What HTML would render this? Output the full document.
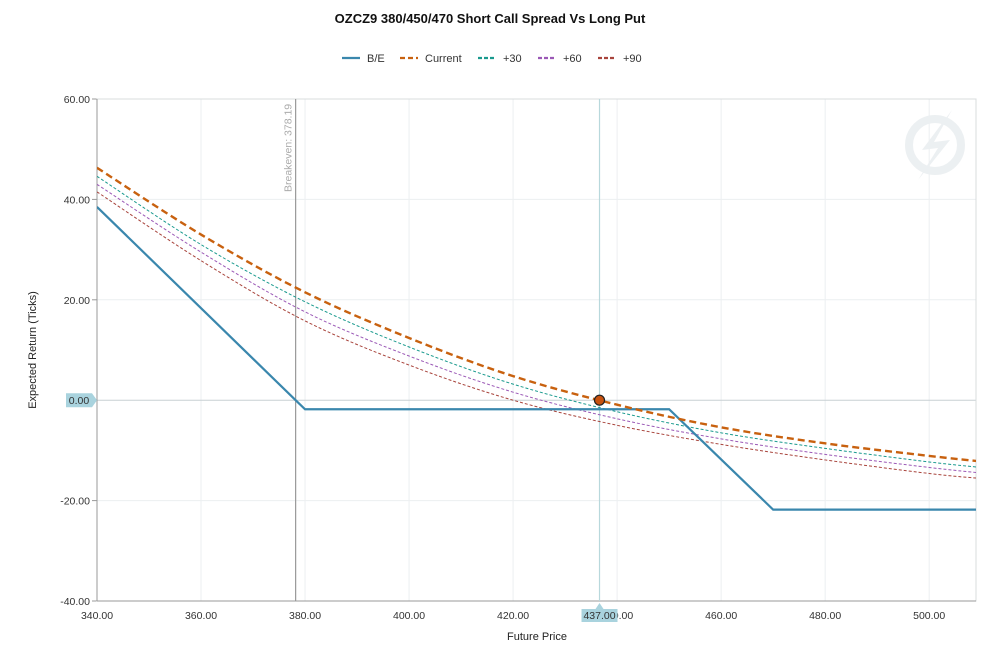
<!DOCTYPE html>
<html><head><meta charset="utf-8">
<style>
body{margin:0;background:#fff;font-family:"Liberation Sans",sans-serif;}
svg text{font-family:"Liberation Sans",sans-serif;}
</style></head>
<body>
<svg id="chart" width="991" height="659">
<defs><clipPath id="plotclip"><rect x="97" y="99" width="879" height="502"/></clipPath></defs>
<text x="490" y="23" text-anchor="middle" font-size="13" font-weight="bold" fill="#111">OZCZ9 380/450/470 Short Call Spread Vs Long Put</text>
<g id="legend"></g>
<g id="grid"></g>
<g id="series" clip-path="url(#plotclip)"></g>
<g id="overlay"></g>
</svg>
<script>
const prices=[340,360,380,400,420,440,460,480,500,510];
const currentVals=[46.3,33,21.5,12.4,4.8,-0.9,-5.4,-8.6,-11.1,-12.2];
const plus30Vals=[44.6,31,19.6,10.6,3.2,-2.3,-6.5,-9.6,-12.3,-13.4];
const plus60Vals=[43,29.5,17.6,8.8,1.6,-3.7,-7.7,-10.8,-13.4,-14.5];
const plus90Vals=[41.5,27.8,15.8,7,0,-5,-8.8,-11.9,-14.6,-15.6];
const bePrices=[340,378.19,380,450,470,510];
const beVals=[38.5,0,-1.8,-1.8,-21.8,-21.8];
const xTicks=[340,360,380,400,420,440,460,480,500];
const yTicks=[60,40,20,0,-20,-40];
const breakeven=378.19, cursorPrice=437, cursorVal=0;

const X0=97,X1=976,Y0=99,Y1=601;
const xMin=340,xMax=509,yMin=-40,yMax=60;
const sx=v=>X0+(v-xMin)/(xMax-xMin)*(X1-X0);
const sy=v=>Y1-(v-yMin)/(yMax-yMin)*(Y1-Y0);
const NS='http://www.w3.org/2000/svg';
function mk(tag,attrs,parent){const e=document.createElementNS(NS,tag);for(const k in attrs)e.setAttribute(k,attrs[k]);parent.appendChild(e);return e;}
const grid=document.getElementById('grid'),ser=document.getElementById('series'),ov=document.getElementById('overlay'),leg=document.getElementById('legend');

let wm=mk('g',{opacity:0.25},grid);


mk('circle',{cx:935,cy:145,r:26,fill:'none',stroke:'#b8c4cc','stroke-width':8},wm);
mk('path',{d:'M952 110 L922 150 L938 148 L918 180 L950 140 L934 142 Z',fill:'#b8c4cc'},wm);

xTicks.forEach(t=>{
 let l=mk('line',{x1:sx(t),x2:sx(t),y1:Y0,y2:Y1,stroke:'#eceff1'},grid);
 
 
 let tx=mk('text',{x:sx(t),y:619,'text-anchor':'middle','font-size':10.5,fill:'#333'},grid);
 tx.textContent=t.toFixed(2);
 
 
});
yTicks.forEach(t=>{
 let l=mk('line',{x1:X0,x2:X1,y1:sy(t),y2:sy(t),stroke:t===0?'#c8d0d4':'#eceff1'},grid);
 
 
 mk('line',{x1:X0-5,x2:X0,y1:sy(t),y2:sy(t),stroke:'#999'},grid);
 if(t!==0){let tx=mk('text',{x:X0-7,y:sy(t)+4,'text-anchor':'end','font-size':10.5,fill:'#333'},grid);
 tx.textContent=t.toFixed(2);
 
 }
});
mk('rect',{x:X0,y:Y0,width:X1-X0,height:Y1-Y0,fill:'none',stroke:'#d8dcde'},grid);
mk('line',{x1:X0,x2:X0,y1:Y0,y2:Y1,stroke:'#999'},grid);
mk('line',{x1:X0,x2:X1,y1:Y1,y2:Y1,stroke:'#999'},grid);
let xt=mk('text',{x:537,y:640,'text-anchor':'middle','font-size':11,fill:'#222'},grid);xt.textContent='Future Price';


let yt=mk('text',{x:36,y:350,'text-anchor':'middle','font-size':11,fill:'#222',transform:'rotate(-90 36 350)'},grid);yt.textContent='Expected Return (Ticks)';



let bl=mk('line',{x1:sx(breakeven),x2:sx(breakeven),y1:Y0,y2:Y1,stroke:'#999','stroke-width':1.2},grid);


let bt=mk('text',{x:0,y:0,'font-size':10.5,fill:'#aaa',transform:`translate(${sx(breakeven)-4},192) rotate(-90)`},grid);
bt.textContent='Breakeven: 378.19';


let cl=mk('line',{x1:sx(cursorPrice)-2,x2:sx(cursorPrice)-2,y1:Y0,y2:Y1,stroke:'#b8d8dc','stroke-width':1.2},grid);



function smooth(xs,ys){
 const p=xs.map((x,i)=>[sx(x),sy(ys[i])]);
 let d=`M${p[0][0]},${p[0][1]}`;
 for(let i=0;i<p.length-1;i++){
  const p0=p[i-1]||p[i],p1=p[i],p2=p[i+1],p3=p[i+2]||p2;
  const c1=[p1[0]+(p2[0]-p0[0])/6,p1[1]+(p2[1]-p0[1])/6];
  const c2=[p2[0]-(p3[0]-p1[0])/6,p2[1]-(p3[1]-p1[1])/6];
  d+=` C${c1[0]},${c1[1]} ${c2[0]},${c2[1]} ${p2[0]},${p2[1]}`;
 }
 return d;
}
const defs=[
 {vals:plus90Vals,color:'#a8443c',w:1,dash:'3,2',name:'plus90-line'},
 {vals:plus60Vals,color:'#9b59b6',w:1,dash:'3,2',name:'plus60-line'},
 {vals:plus30Vals,color:'#1a9a8e',w:1,dash:'3,2',name:'plus30-line'},
];
defs.forEach(s=>{
 let p=mk('path',{d:smooth(prices,s.vals),fill:'none',stroke:s.color,'stroke-width':s.w,'stroke-dasharray':s.dash},ser);
 
 
});
let be=mk('polyline',{points:bePrices.map((x,i)=>sx(x)+','+sy(beVals[i])).join(' '),fill:'none',stroke:'#3a87ad','stroke-width':2.2},ser);


let cur=mk('path',{d:smooth(prices,currentVals),fill:'none',stroke:'#c8610f','stroke-width':2.4,'stroke-dasharray':'7,4'},ser);



let dot=mk('circle',{cx:sx(cursorPrice)-2,cy:sy(cursorVal),r:5,fill:'#c8520f',stroke:'#222','stroke-width':1.2},ov);


let yb=mk('g',{},ov);


mk('path',{d:`M66 ${sy(0)-7} H92 L97 ${sy(0)} L92 ${sy(0)+7} H66 Z`,fill:'#a9d3de'},yb);
let ybt=mk('text',{x:79,y:sy(0)+4,'text-anchor':'middle','font-size':10.5,fill:'#333'},yb);ybt.textContent='0.00';
let xb=mk('g',{},ov);


const cx=sx(cursorPrice)-2;
mk('path',{d:`M${cx-18} 609 H${cx-4} L${cx} 603 L${cx+4} 609 H${cx+18} V622 H${cx-18} Z`,fill:'#a9d3de'},xb);
let xbt=mk('text',{x:cx,y:619,'text-anchor':'middle','font-size':10.5,fill:'#333'},xb);xbt.textContent='437.00';

const legItems=[['B/E','#3a87ad',null,342],['Current','#c8610f','5,3',400],['+30','#1a9a8e','4,2',478],['+60','#9b59b6','4,2',538],['+90','#a8443c','4,2',598]];
legItems.forEach(([t,c,d,x])=>{
 let g=mk('g',{},leg);
 
 
 mk('line',{x1:x,x2:x+18,y1:58,y2:58,stroke:c,'stroke-width':2.2,'stroke-dasharray':d||'none'},g);
 let tx=mk('text',{x:x+25,y:62,'font-size':11,fill:'#333'},g);tx.textContent=t;
});
</script>
</body></html>
